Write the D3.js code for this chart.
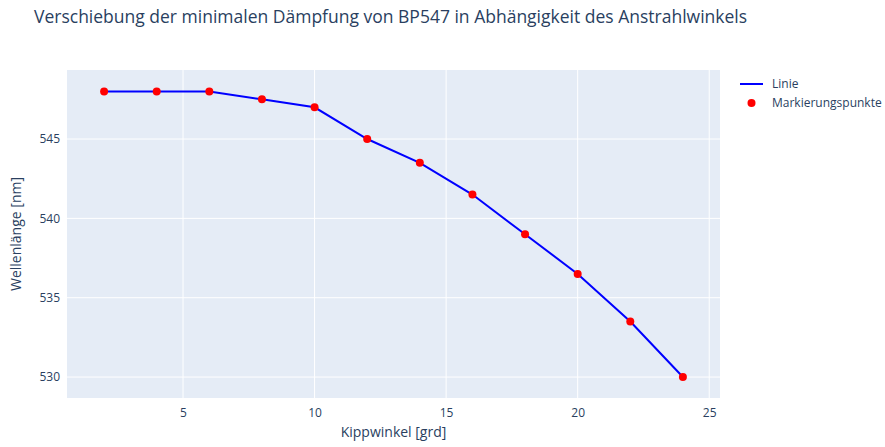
<!DOCTYPE html>
<html>
<head>
<meta charset="utf-8">
<script src="https://cdn.jsdelivr.net/npm/d3@7"></script>
<style>
  body { margin: 0; background: #fff; }
  text { font-family: "Open Sans", "Noto Sans", sans-serif; fill: #2a3f5f; }
</style>
</head>
<body>
<svg width="885" height="447"></svg>
<script>
// Kippwinkel [grd] und Wellenlänge [nm]
var kippwinkel = [2, 4, 6, 8, 10, 12, 14, 16, 18, 20, 22, 24];
var wellenlaenge = [548, 548, 548, 547.5, 547, 545, 543.5, 541.5, 539, 536.5, 533.5, 530];
var xTicks = [5, 10, 15, 20, 25];
var yTicks = [530, 535, 540, 545];
var legendNames = ["Linie", "Markierungspunkte"];

var data = kippwinkel.map(function(k, i) { return {x: k, y: wellenlaenge[i]}; });

var svg = d3.select("svg");
var margin = {top: 70, right: 165, bottom: 49, left: 67};
var width = +svg.attr("width") - margin.left - margin.right;
var height = +svg.attr("height") - margin.top - margin.bottom;

var x = d3.scaleLinear().domain([0.59, 25.41]).range([0, width]);
var y = d3.scaleLinear().domain([528.68, 549.35]).range([height, 0]);

svg.append("text")
  .attr("x", 34)
  .attr("y", 23)
  .attr("font-size", 17.5)
  .text("Verschiebung der minimalen Dämpfung von BP547 in Abhängigkeit des Anstrahlwinkels");

var g = svg.append("g")
  .attr("transform", "translate(" + margin.left + "," + margin.top + ")");

g.append("rect")
  .attr("width", width)
  .attr("height", height)
  .attr("fill", "#E5ECF6");

// gitterlinien
g.append("g")
  .selectAll("line")
  .data(xTicks)
  .enter().append("line")
    .attr("x1", function(d) { return x(d); })
    .attr("x2", function(d) { return x(d); })
    .attr("y1", 0)
    .attr("y2", height)
    .attr("stroke", "#fff")
    .attr("stroke-width", 1);

g.append("g")
  .selectAll("line")
  .data(yTicks)
  .enter().append("line")
    .attr("x1", 0)
    .attr("x2", width)
    .attr("y1", function(d) { return y(d); })
    .attr("y2", function(d) { return y(d); })
    .attr("stroke", "#fff")
    .attr("stroke-width", 1);

var xAxis = g.append("g")
  .attr("transform", "translate(0," + height + ")")
  .call(d3.axisBottom(x).tickValues(xTicks).tickSize(0).tickPadding(10));
xAxis.select(".domain").remove();
xAxis.selectAll("text").attr("font-size", 12).attr("fill", "#2a3f5f");

var yAxis = g.append("g")
  .call(d3.axisLeft(y).tickValues(yTicks).tickSize(0).tickPadding(7));
yAxis.select(".domain").remove();
yAxis.selectAll("text").attr("font-size", 12).attr("fill", "#2a3f5f");

svg.append("text")
  .attr("x", margin.left + width / 2)
  .attr("y", 437)
  .attr("text-anchor", "middle")
  .attr("font-size", 14)
  .text("Kippwinkel [grd]");

svg.append("text")
  .attr("transform", "translate(21," + (margin.top + height / 2) + ") rotate(-90)")
  .attr("text-anchor", "middle")
  .attr("font-size", 14)
  .text("Wellenlänge [nm]");

var line = d3.line()
  .x(function(d) { return x(d.x); })
  .y(function(d) { return y(d.y); });

g.append("path")
  .datum(data)
  .attr("d", line)
  .attr("fill", "none")
  .attr("stroke", "#0000ff")
  .attr("stroke-width", 2);

g.append("g")
  .selectAll("circle")
  .data(data)
  .enter().append("circle")
    .attr("cx", function(d) { return x(d.x); })
    .attr("cy", function(d) { return y(d.y); })
    .attr("r", 4)
    .attr("fill", "#ff0000");

// legende
var legend = svg.append("g")
  .attr("transform", "translate(740,84)");

legend.append("line")
  .attr("x1", 0).attr("x2", 23)
  .attr("y1", 0).attr("y2", 0)
  .attr("stroke", "#0000ff")
  .attr("stroke-width", 2);

legend.append("circle")
  .attr("cx", 11.5)
  .attr("cy", 19)
  .attr("r", 4)
  .attr("fill", "#ff0000");

legend.selectAll("text")
  .data(legendNames)
  .enter().append("text")
    .attr("x", 32)
    .attr("y", function(d, i) { return i * 19; })
    .attr("dy", "0.35em")
    .attr("font-size", 12)
    .text(function(d) { return d; });
</script>
</body>
</html>
